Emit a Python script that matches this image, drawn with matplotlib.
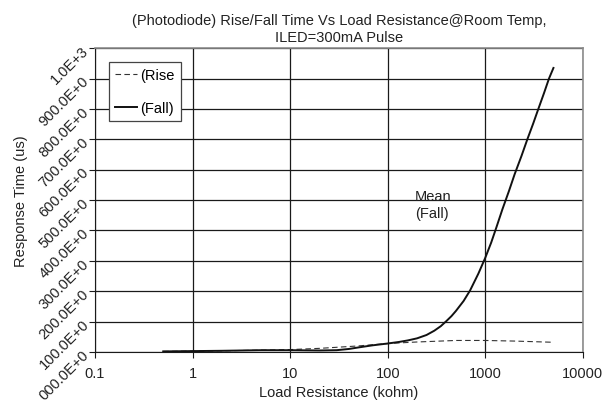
import matplotlib
matplotlib.use("Agg")
import matplotlib.pyplot as plt

plt.rcParams["font.family"] = ["Liberation Sans Narrow", "Liberation Sans", "DejaVu Sans"]

# ── Data ────────────────────────────────────────────────────────────────────
rise_x = [0.5, 1, 2, 5, 10, 20, 50, 100, 200, 500, 1000, 2000, 5000]
rise_y = [2, 3, 4, 6, 8, 12, 20, 28, 33, 38, 38, 36, 32]

fall_x = [0.5, 1, 2, 5, 10, 20, 30, 40, 50, 70, 100, 130, 160, 200, 250,
          300, 350, 400, 450, 500, 600, 700, 850, 1000, 1150, 1300, 1500,
          1750, 2000, 2350, 2700, 3100, 3500, 4000, 4500, 5000]
fall_y = [2, 3, 4, 6, 6, 5, 6, 10, 15, 22, 28, 33, 38, 45, 56,
          70, 85, 102, 118, 135, 168, 203, 258, 310, 360, 410, 470,
          530, 585, 645, 700, 752, 800, 852, 900, 935]

x_ticks = [0.1, 1, 10, 100, 1000, 10000]
x_tick_labels = ["0.1", "1", "10", "100", "1000", "10000"]
y_ticks = [0, 100, 200, 300, 400, 500, 600, 700, 800, 900, 1000]
y_tick_labels = ["000.0E+0", "100.0E+0", "200.0E+0", "300.0E+0", "400.0E+0",
                 "500.0E+0", "600.0E+0", "700.0E+0", "800.0E+0", "900.0E+0",
                 "1.0E+3"]

fig = plt.figure(figsize=(6.09, 4.10), dpi=100)
ax = fig.add_axes([0.156, 0.139, 0.801, 0.741])

ax.plot(rise_x, rise_y, color="#333333", linestyle=(0, (5, 3)), linewidth=0.8,
        label="(Rise")
ax.plot(fall_x, fall_y, color="#111111", linewidth=1.4, label="(Fall)")

ax.set_xscale("log")
ax.set_xlim(0.1, 10000)
ax.set_ylim(0, 1000)
ax.set_xticks(x_ticks)
ax.set_xticklabels(x_tick_labels)
ax.xaxis.set_minor_locator(matplotlib.ticker.NullLocator())
ax.set_yticks(y_ticks)
ax.set_yticklabels(y_tick_labels, rotation=45, ha="right", va="center",
                   rotation_mode="anchor")

ax.grid(True, which="major", color="#1a1a1a", linewidth=0.9)
ax.set_axisbelow(True)
for side in ("top", "right"):
    ax.spines[side].set_color("#8c8c8c")
    ax.spines[side].set_linewidth(1.2)
for side in ("left", "bottom"):
    ax.spines[side].set_color("#1a1a1a")
ax.tick_params(axis="both", labelsize=10.5, length=4, color="#1a1a1a",
               colors="#222222")
ax.tick_params(axis="x", pad=6)
ax.tick_params(axis="y", pad=2)

ax.set_xlabel("Load Resistance (kohm)", fontsize=10.5, color="#222222",
              labelpad=4)
ax.set_ylabel("Response Time (us)", fontsize=10.5, color="#222222",
              labelpad=6)
ax.set_title("(Photodiode) Rise/Fall Time Vs Load Resistance@Room Temp,\n"
             "ILED=300mA Pulse", fontsize=10.5, color="#222222", pad=5,
             linespacing=1.3)

ax.text(190, 485, "Mean\n(Fall)", fontsize=10.5, color="#222222",
        ha="left", va="center", linespacing=1.3)

leg = ax.legend(loc="upper left", bbox_to_anchor=(0.028, 0.955), fontsize=10.5,
                frameon=True, fancybox=False, handlelength=1.5,
                handletextpad=0.2, borderpad=0.45, labelspacing=1.25,
                borderaxespad=0)
leg.get_frame().set_edgecolor("#444444")
leg.get_frame().set_linewidth(0.9)
leg.get_frame().set_alpha(1)

fig.savefig("out.png", dpi=100)
